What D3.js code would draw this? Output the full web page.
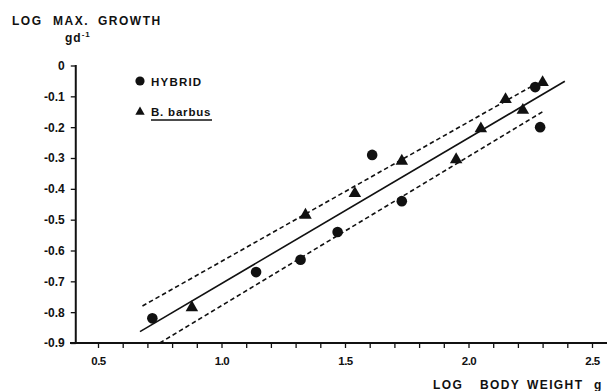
<!DOCTYPE html>
<html><head><meta charset="utf-8">
<script src="https://cdn.jsdelivr.net/npm/d3@7"></script>
<style>
body{margin:0;background:#fff;}
text{font-family:"Liberation Sans",Arial,sans-serif;font-weight:bold;fill:#111;}
</style></head>
<body><svg id="c" width="607" height="391"></svg>
<script>
// Data
const hybridX = [0.72, 1.14, 1.32, 1.47, 1.61, 1.73, 2.27, 2.29];
const hybridY = [-0.82, -0.67, -0.63, -0.54, -0.29, -0.44, -0.07, -0.20];
const barbusX = [0.88, 1.34, 1.54, 1.73, 1.95, 2.05, 2.15, 2.22, 2.30];
const barbusY = [-0.785, -0.485, -0.415, -0.31, -0.305, -0.205, -0.11, -0.145, -0.055];
const fitX = [0.67, 2.39];
const fitY = [-0.863, -0.051];
const upperX = [0.68, 2.25];
const upperY = [-0.78, -0.07];
const lowerX = [0.75, 2.30];
const lowerY = [-0.90, -0.15];
const xTicks = [0.5,0.6,0.7,0.8,0.9,1.0,1.1,1.2,1.3,1.4,1.5,1.6,1.7,1.8,1.9,2.0,2.1,2.2,2.3,2.4,2.5];
const xTickLabels = ["0.5","1.0","1.5","2.0","2.5"];
const yTicks = [0,-0.1,-0.2,-0.3,-0.4,-0.5,-0.6,-0.7,-0.8,-0.9];
const yTickLabels = ["0","-0.1","-0.2","-0.3","-0.4","-0.5","-0.6","-0.7","-0.8","-0.9"];
const yTitleWords = ["LOG", "MAX.", "GROWTH"];
const xTitleWords = ["LOG", "BODY", "WEIGHT", "g"];

const svg = d3.select("#c");
const x = d3.scaleLinear().domain([0.5, 2.5]).range([98, 592]);
const y = d3.scaleLinear().domain([0, -0.9]).range([65.5, 343]);

// axes
const xAxis = d3.axisBottom(x).tickValues(xTicks).tickSize(5).tickSizeOuter(0)
  .tickFormat(d => { const s = d.toFixed(1); return xTickLabels.includes(s) ? s : ""; });
const gx = svg.append("g").attr("transform", `translate(0,${y(-0.9)})`).call(xAxis);
gx.select(".domain").remove();
gx.append("line").attr("x1", 70).attr("x2", 607).attr("y1", 0).attr("y2", 0)
  .attr("stroke", "#111").attr("stroke-width", 2);
gx.selectAll(".tick line").attr("stroke", "#111").attr("stroke-width", 1.3);
gx.selectAll(".tick text").attr("dy", "0.9em").attr("y", 12).style("font-size", "11.5px").style("letter-spacing", "-0.5px");

const yAxis = d3.axisLeft(y).tickValues(yTicks).tickSize(5).tickSizeOuter(0)
  .tickFormat((d, i) => yTickLabels[i]);
const gy = svg.append("g").attr("transform", `translate(${x(0.41)},0)`).call(yAxis);
gy.select(".domain").remove();
gy.append("line").attr("x1", 0).attr("x2", 0).attr("y1", y(0) - 0.5).attr("y2", y(-0.9))
  .attr("stroke", "#111").attr("stroke-width", 2);
gy.selectAll(".tick line").attr("stroke", "#111").attr("stroke-width", 1.3);
gy.selectAll(".tick text").attr("x", -11).style("font-size", "12px");

// lines
function seg(xs, ys, dash) {
  svg.append("line").attr("x1", x(xs[0])).attr("y1", y(ys[0]))
    .attr("x2", x(xs[1])).attr("y2", y(ys[1]))
    .attr("stroke", "#111").attr("stroke-width", 1.6)
    .attr("stroke-dasharray", dash ? "4.5,3" : null);
}
seg(fitX, fitY, false);
seg(upperX, upperY, true);
seg(lowerX, lowerY, true);

// points
svg.append("g").selectAll("circle").data(hybridX).join("circle")
  .attr("cx", d => x(d)).attr("cy", (d, i) => y(hybridY[i])).attr("r", 5.3).attr("fill", "#111");
const tri = d3.symbol().type(d3.symbolTriangle).size(68);
svg.append("g").selectAll("path").data(barbusX).join("path")
  .attr("d", tri).attr("fill", "#111")
  .attr("transform", (d, i) => `translate(${x(d)},${y(barbusY[i])})`);

// legend
svg.append("circle").attr("cx", 140).attr("cy", 81).attr("r", 4.6).attr("fill", "#111");
svg.append("text").attr("x", 151).attr("y", 85.5).text("HYBRID").style("font-size", "11.5px").style("letter-spacing", "1.2px");
svg.append("path").attr("d", d3.symbol().type(d3.symbolTriangle).size(38)).attr("fill", "#111")
  .attr("transform", "translate(140,112)");
svg.append("text").attr("x", 151).attr("y", 116).text("B. barbus").style("font-size", "11.5px").style("letter-spacing", "0.8px");
svg.append("line").attr("x1", 151).attr("x2", 212).attr("y1", 120).attr("y2", 120).attr("stroke", "#111").attr("stroke-width", 1.3);

// titles
const yTitleX = [12, 53, 98];
const yt = svg.append("text").attr("y", 25).style("font-size", "12px").style("letter-spacing", "1.5px");
yTitleWords.forEach((w, i) => yt.append("tspan").attr("x", yTitleX[i]).text(w));
const gd = svg.append("text").attr("x", 65).attr("y", 42).style("font-size", "12px").style("letter-spacing", "1px");
gd.append("tspan").text("gd");
gd.append("tspan").attr("dy", -5).style("font-size", "8px").text("-1");
const xTitleX = [433, 480, 527, 594];
const xt = svg.append("text").attr("y", 389).style("font-size", "12px").style("letter-spacing", "1.4px");
xTitleWords.forEach((w, i) => xt.append("tspan").attr("x", xTitleX[i]).text(w));
</script></body></html>
